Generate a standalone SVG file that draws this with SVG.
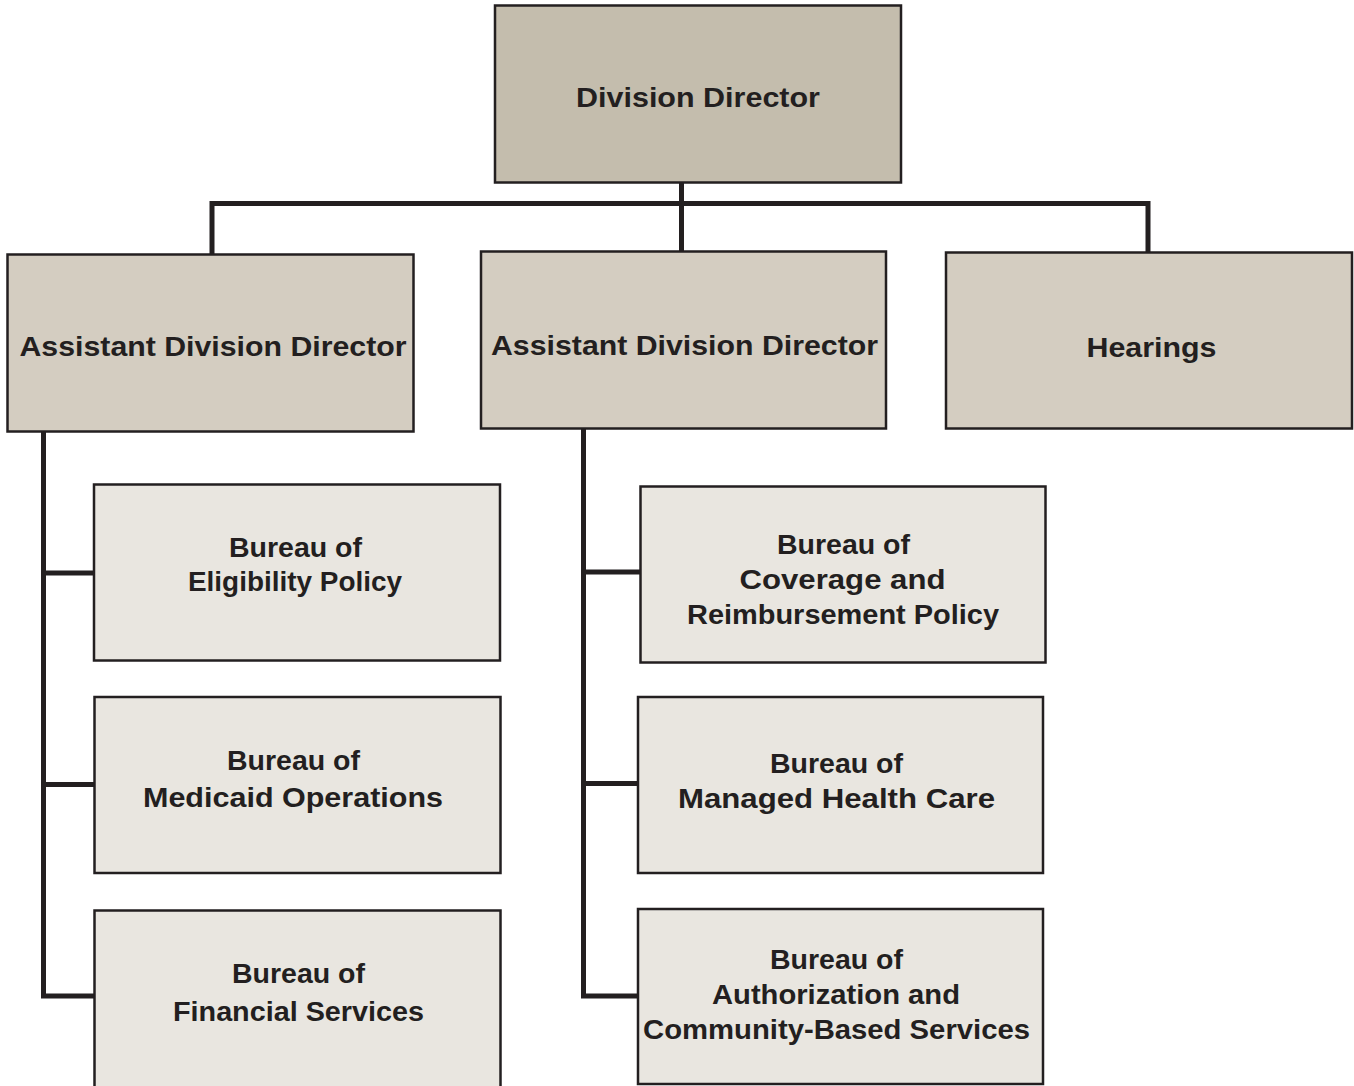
<svg xmlns="http://www.w3.org/2000/svg" width="1354" height="1086" viewBox="0 0 1354 1086">
<style>
.box{stroke:#231f20;stroke-width:2.5}
.top{fill:#c4bdad}
.mid{fill:#d4cdc1}
.low{fill:#e9e6e0}
.conn{fill:none;stroke:#231f20;stroke-width:5;stroke-linecap:butt;stroke-linejoin:miter}
text{font-family:"Liberation Sans",Arial,sans-serif;font-weight:bold;font-size:27px;fill:#231f20;text-anchor:middle}
</style>
<rect width="1354" height="1086" fill="#ffffff"/>
<g id="connectors">
<path class="conn" d="M681.5,182 V251 M212,254 V203.5 H1148 V252"/>
<path class="conn" d="M43.5,432 V996 H94 M43.5,573 H94 M43.5,784.5 H94"/>
<path class="conn" d="M583.5,429 V996 H637 M583.5,572 H640 M583.5,783.5 H637"/>
</g>
<g id="division-director">
<rect class="box top" x="495" y="5.5" width="406" height="177"/>
<text x="698" y="107" textLength="244" lengthAdjust="spacingAndGlyphs">Division Director</text>
</g>
<g id="add-left">
<rect class="box mid" x="7.5" y="254.5" width="406" height="177"/>
<text x="213" y="356" textLength="387" lengthAdjust="spacingAndGlyphs">Assistant Division Director</text>
</g>
<g id="add-middle">
<rect class="box mid" x="481" y="251.5" width="405" height="177"/>
<text x="684.5" y="355" textLength="387" lengthAdjust="spacingAndGlyphs">Assistant Division Director</text>
</g>
<g id="hearings">
<rect class="box mid" x="946" y="252.5" width="406" height="176"/>
<text x="1151.5" y="357" textLength="130" lengthAdjust="spacingAndGlyphs">Hearings</text>
</g>
<g id="bureau-eligibility">
<rect class="box low" x="94" y="484.5" width="406" height="176"/>
<text x="295.5" y="557" textLength="133" lengthAdjust="spacingAndGlyphs">Bureau of</text>
<text x="295" y="591" textLength="214" lengthAdjust="spacingAndGlyphs">Eligibility Policy</text>
</g>
<g id="bureau-medicaid">
<rect class="box low" x="94.5" y="697" width="406" height="176"/>
<text x="293.5" y="770" textLength="133" lengthAdjust="spacingAndGlyphs">Bureau of</text>
<text x="293" y="807" textLength="300" lengthAdjust="spacingAndGlyphs">Medicaid Operations</text>
</g>
<g id="bureau-financial">
<rect class="box low" x="94.5" y="910.5" width="406" height="180"/>
<text x="298.5" y="983" textLength="133" lengthAdjust="spacingAndGlyphs">Bureau of</text>
<text x="298.5" y="1021" textLength="251" lengthAdjust="spacingAndGlyphs">Financial Services</text>
</g>
<g id="bureau-coverage">
<rect class="box low" x="640.5" y="486.5" width="405" height="176"/>
<text x="843.5" y="554" textLength="133" lengthAdjust="spacingAndGlyphs">Bureau of</text>
<text x="842.5" y="589" textLength="206" lengthAdjust="spacingAndGlyphs">Coverage and</text>
<text x="843" y="624" textLength="312" lengthAdjust="spacingAndGlyphs">Reimbursement Policy</text>
</g>
<g id="bureau-managed">
<rect class="box low" x="638" y="697" width="405" height="176"/>
<text x="836.5" y="773" textLength="133" lengthAdjust="spacingAndGlyphs">Bureau of</text>
<text x="836.5" y="808" textLength="317" lengthAdjust="spacingAndGlyphs">Managed Health Care</text>
</g>
<g id="bureau-authorization">
<rect class="box low" x="638" y="909" width="405" height="175"/>
<text x="836.5" y="969" textLength="133" lengthAdjust="spacingAndGlyphs">Bureau of</text>
<text x="836" y="1004" textLength="248" lengthAdjust="spacingAndGlyphs">Authorization and</text>
<text x="836.5" y="1039" textLength="387" lengthAdjust="spacingAndGlyphs">Community-Based Services</text>
</g>
</svg>
